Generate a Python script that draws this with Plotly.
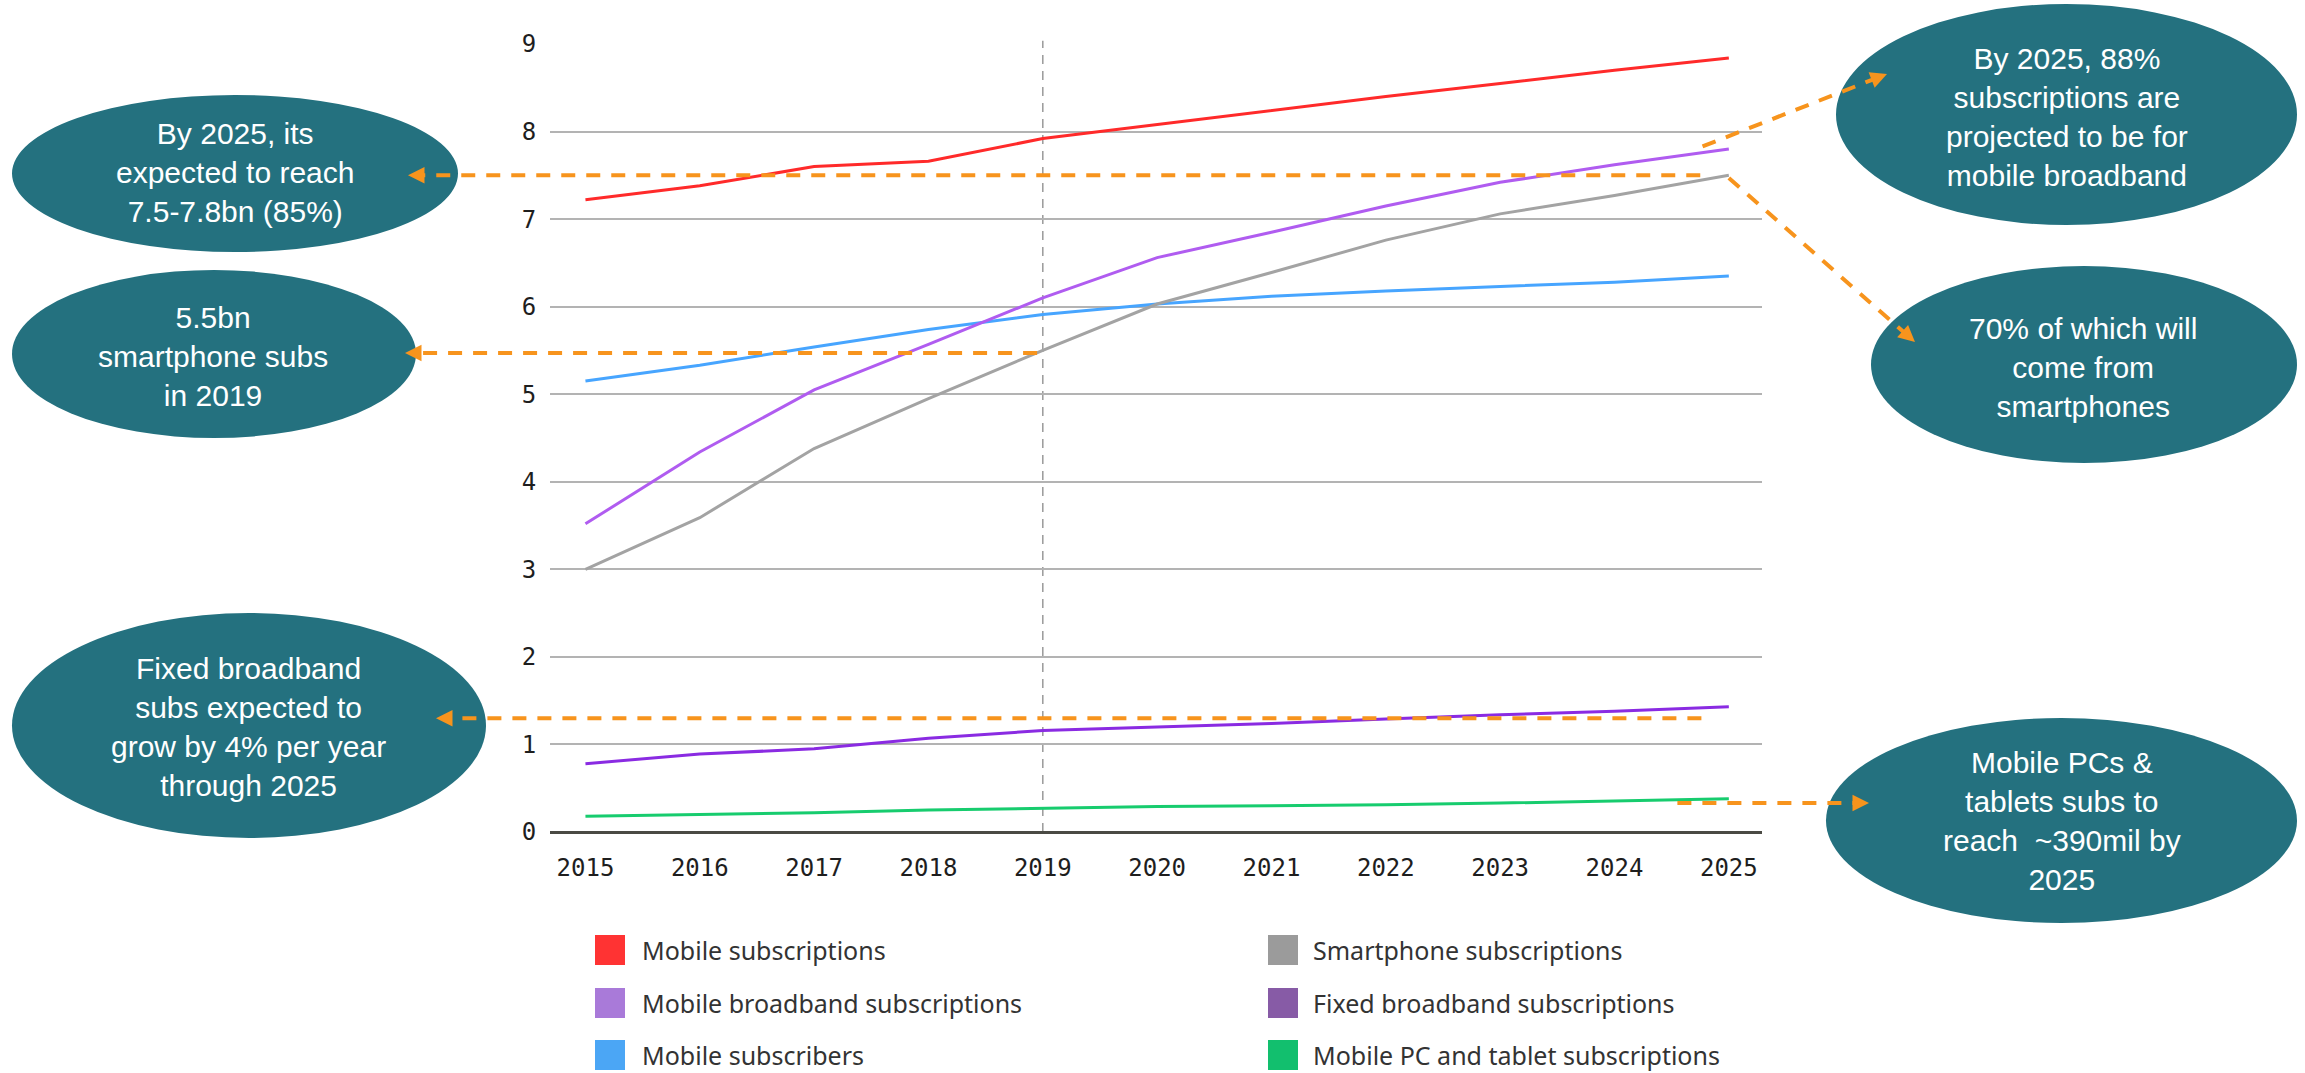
import plotly.graph_objects as go

# ---------------- data ----------------
years = [2015, 2016, 2017, 2018, 2019, 2020, 2021, 2022, 2023, 2024, 2025]
mobile_subscriptions = [7.22, 7.38, 7.60, 7.66, 7.92, 8.08, 8.24, 8.40, 8.55, 8.70, 8.84]
mobile_broadband = [3.52, 4.34, 5.05, 5.57, 6.10, 6.56, 6.85, 7.15, 7.42, 7.62, 7.80]
smartphone = [3.00, 3.59, 4.38, 4.95, 5.50, 6.03, 6.39, 6.76, 7.06, 7.27, 7.50]
mobile_subscribers = [5.15, 5.33, 5.54, 5.74, 5.91, 6.03, 6.12, 6.18, 6.23, 6.28, 6.35]
fixed_broadband = [0.78, 0.89, 0.95, 1.07, 1.16, 1.20, 1.24, 1.29, 1.34, 1.38, 1.43]
mobile_pc_tablet = [0.18, 0.20, 0.22, 0.25, 0.27, 0.29, 0.30, 0.31, 0.33, 0.355, 0.38]
y_ticks = [0, 1, 2, 3, 4, 5, 6, 7, 8, 9]

series_names = ["Mobile subscriptions", "Smartphone subscriptions",
                "Mobile broadband subscriptions", "Fixed broadband subscriptions",
                "Mobile subscribers", "Mobile PC and tablet subscriptions"]

callouts = [
    "By 2025, its<br>expected to reach<br>7.5-7.8bn (85%)",
    "5.5bn<br>smartphone subs<br>in 2019",
    "Fixed broadband<br>subs expected to<br>grow by 4% per year<br>through 2025",
    "By 2025, 88%<br>subscriptions are<br>projected to be for<br>mobile broadband",
    "70% of which will<br>come from<br>smartphones",
    "Mobile PCs &<br>tablets subs to<br>reach&nbsp; ~390mil by<br>2025",
]

# ---------------- layout geometry ----------------
W, H = 2305, 1073
ML, MR, MT, MB = 550, 543, 44, 241
PW, PH = W - ML - MR, H - MT - MB
XR = [2014.69, 2025.29]
YR = [0, 9]

def px_x(year):
    return ML + (year - XR[0]) / (XR[1] - XR[0]) * PW

def px_y(v):
    return MT + PH - (v - YR[0]) / (YR[1] - YR[0]) * PH

def pp_x(px):
    return (px - ML) / PW

def pp_y(py):
    return (MT + PH - py) / PH

TEAL = "#24717F"
ORANGE = "#F7941D"

line_colors = {
    "Mobile subscriptions": "#FF2A2A",
    "Smartphone subscriptions": "#A3A3A3",
    "Mobile broadband subscriptions": "#B05CF0",
    "Fixed broadband subscriptions": "#8A2BE2",
    "Mobile subscribers": "#47A5FF",
    "Mobile PC and tablet subscriptions": "#17CC6E",
}
swatch_colors = {
    "Mobile subscriptions": "#FF3333",
    "Smartphone subscriptions": "#9B9B9B",
    "Mobile broadband subscriptions": "#A97AD9",
    "Fixed broadband subscriptions": "#875BA6",
    "Mobile subscribers": "#4BA6F5",
    "Mobile PC and tablet subscriptions": "#12BF6E",
}
values = {
    "Mobile subscriptions": mobile_subscriptions,
    "Smartphone subscriptions": smartphone,
    "Mobile broadband subscriptions": mobile_broadband,
    "Fixed broadband subscriptions": fixed_broadband,
    "Mobile subscribers": mobile_subscribers,
    "Mobile PC and tablet subscriptions": mobile_pc_tablet,
}

fig = go.Figure()
for name in ["Mobile subscribers", "Smartphone subscriptions", "Mobile broadband subscriptions",
             "Mobile subscriptions", "Fixed broadband subscriptions",
             "Mobile PC and tablet subscriptions"]:
    fig.add_trace(go.Scatter(x=years, y=values[name], mode="lines", name=name,
                             line=dict(color=line_colors[name], width=3),
                             showlegend=False, hoverinfo="skip"))

shapes = []
annotations = []

# vertical dashed line at 2019
shapes.append(dict(type="line", xref="x", yref="paper", x0=2019, x1=2019, y0=0, y1=1.004,
                   line=dict(color="#9A9A9A", width=1.5, dash="9px,7px"), layer="between"))

# ellipses (px boxes) and text centres
ellipses = [
    ((12, 458, 95, 252), (235, 173)),
    ((12, 416, 270, 438), (213, 356)),
    ((12, 486, 613, 838), (248, 727)),
    ((1836, 2297, 4, 225), (2067, 117)),
    ((1871, 2297, 266, 463), (2083, 367)),
    ((1826, 2297, 718, 923), (2062, 821)),
]
for (x0, x1, y0, y1), _ in ellipses:
    shapes.append(dict(type="circle", xref="paper", yref="paper",
                       x0=pp_x(x0), x1=pp_x(x1), y0=pp_y(y1), y1=pp_y(y0),
                       fillcolor=TEAL, line=dict(width=0), layer="above"))
for (box, (cx, cy)), txt in zip(ellipses, callouts):
    annotations.append(dict(xref="paper", yref="paper", x=pp_x(cx), y=pp_y(cy),
                            text=txt, showarrow=False, xanchor="center", yanchor="middle",
                            align="center",
                            font=dict(family="Liberation Sans, Arial, sans-serif", size=30,
                                      color="white")))

# orange dashed connectors: (start px, tip px)
HEAD = 14
arrows = [
    ((px_x(2024.75), px_y(7.5)), (408, px_y(7.5))),
    ((px_x(2018.95), px_y(5.47)), (405, px_y(5.47))),
    ((px_x(2024.76), px_y(1.30)), (436, px_y(1.30))),
    ((px_x(2024.55), px_y(0.33)), (1869, px_y(0.33))),
    ((px_x(2024.77), px_y(7.83)), (1887, 74)),
    ((px_x(2025.0), px_y(7.47)), (1915, 342)),
]
for (sx, sy), (tx, ty) in arrows:
    dx, dy = tx - sx, ty - sy
    L = (dx * dx + dy * dy) ** 0.5
    ux, uy = dx / L, dy / L
    bx, by = tx - ux * HEAD, ty - uy * HEAD
    shapes.append(dict(type="line", xref="paper", yref="paper",
                       x0=pp_x(sx), y0=pp_y(sy), x1=pp_x(bx), y1=pp_y(by),
                       line=dict(color=ORANGE, width=4, dash="14px,11px"), layer="above"))
    annotations.append(dict(xref="paper", yref="paper", x=pp_x(tx), y=pp_y(ty),
                            ax=-ux * HEAD, ay=-uy * HEAD, axref="pixel", ayref="pixel",
                            text="", showarrow=True, arrowhead=2, arrowsize=1.1,
                            arrowwidth=3, arrowcolor=ORANGE, standoff=0))

# legend (manual)
legend_rows = [950, 1003, 1055]
legend_cols = [(595, 640), (1268, 1311)]
SW = 30
for i, name in enumerate(series_names):
    r, c = i // 2, i % 2
    sx, tx = legend_cols[c]
    cy = legend_rows[r]
    shapes.append(dict(type="rect", xref="paper", yref="paper",
                       x0=pp_x(sx), x1=pp_x(sx + SW), y0=pp_y(cy + 15), y1=pp_y(cy - 15),
                       fillcolor=swatch_colors[name], line=dict(width=0)))
    annotations.append(dict(xref="paper", yref="paper", x=pp_x(tx), y=pp_y(cy),
                            text=name, showarrow=False, xanchor="left", yanchor="middle",
                            font=dict(family="Noto Sans, sans-serif",
                                      size=25, color="#333333")))

fig.update_layout(
    width=W, height=H,
    margin=dict(l=ML, r=MR, t=MT, b=MB, pad=0),
    paper_bgcolor="white", plot_bgcolor="white",
    shapes=shapes, annotations=annotations,
    xaxis=dict(range=XR, tickvals=years, ticktext=[str(y) for y in years],
               showgrid=False, zeroline=False, showline=False,
               ticks="outside", ticklen=14, tickcolor="rgba(0,0,0,0)",
               tickfont=dict(family="DejaVu Sans Mono", size=24, color="#1e1e1e")),
    yaxis=dict(range=YR, tickvals=y_ticks, showgrid=True, gridcolor="#B3B3B3", gridwidth=2,
               zeroline=True, zerolinecolor="#4a4a44", zerolinewidth=2.5, showline=False,
               ticks="outside", ticklen=8, tickcolor="rgba(0,0,0,0)",
               tickfont=dict(family="DejaVu Sans Mono", size=24, color="#1e1e1e")),
)

fig.write_html("out.html")
